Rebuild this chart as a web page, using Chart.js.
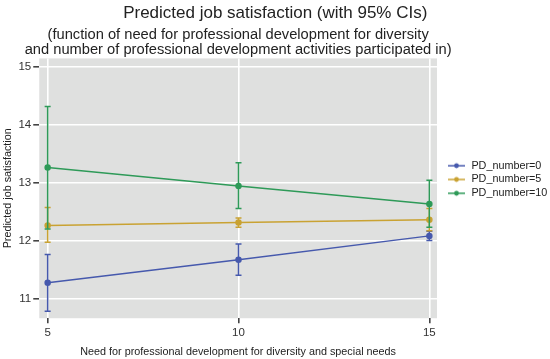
<!DOCTYPE html>
<html>
<head>
<meta charset="utf-8">
<script src="https://cdn.jsdelivr.net/npm/chart.js@4"></script>
<style>
body{margin:0;background:#fff}
</style>
</head>
<body>
<canvas id="canva1" width="550" height="359"></canvas>
<script>
// valores
var needLevels = [5, 10, 15]
var seriesNames = ["PD_number=0", "PD_number=5", "PD_number=10"]
var pd0Mean = [11.28, 11.68, 12.09]
var pd0Low = [10.79, 11.41, 12.01]
var pd0High = [11.77, 11.95, 12.17]
var pd5Mean = [12.27, 12.32, 12.37]
var pd5Low = [11.98, 12.24, 12.18]
var pd5High = [12.58, 12.40, 12.56]
var pd10Mean = [13.27, 12.95, 12.64]
var pd10Low = [12.21, 12.56, 12.24]
var pd10High = [14.32, 13.35, 13.05]
var xTicks = [5, 10, 15]
var yTicks = [11, 12, 13, 14, 15]
var subtitleLines = ["(function of need for professional development for diversity",
  "and number of professional development activities participated in)"]

var cores = ['#4659ad', '#c9a232', '#2e9a58']
var fonte = "'Liberation Sans', Arial, sans-serif"

function montarPontos(medias, baixo, alto){
  var pts = []
  for(var i = 0; i < needLevels.length; i++){
    pts.push({x: needLevels[i], y: medias[i], lo: baixo[i], hi: alto[i]})
  }
  return pts
}

// icone da legenda: linha com ponto, encostado a direita
function iconeLegenda(cor){
  var c = document.createElement('canvas')
  c.width = 26; c.height = 8
  var g = c.getContext('2d')
  g.strokeStyle = cor; g.lineWidth = 1.5
  g.beginPath(); g.moveTo(8, 4); g.lineTo(25, 4); g.stroke()
  g.fillStyle = cor
  g.beginPath(); g.arc(16.5, 4, 2.4, 0, Math.PI*2); g.fill()
  return c
}

// fundo cinza da area do grafico
var fundoPlugin = {
  id: 'fundo',
  beforeDraw: function(chart){
    var a = chart.chartArea, ctx = chart.ctx
    ctx.save()
    ctx.fillStyle = '#dfe0df'
    ctx.fillRect(a.left, a.top, a.right - a.left, a.bottom - a.top)
    ctx.restore()
  }
}

// barras de erro (IC 95%)
var erroPlugin = {
  id: 'erro',
  afterDatasetsDraw: function(chart){
    var ctx = chart.ctx
    var xs = chart.scales.x, ys = chart.scales.y
    ctx.save()
    chart.data.datasets.forEach(function(ds){
      ctx.strokeStyle = ds.borderColor
      ctx.lineWidth = 1.5
      ds.data.forEach(function(p){
        var px = xs.getPixelForValue(p.x)
        var y1 = ys.getPixelForValue(p.lo)
        var y2 = ys.getPixelForValue(p.hi)
        ctx.beginPath()
        ctx.moveTo(px, y1); ctx.lineTo(px, y2)
        ctx.moveTo(px - 3, y1); ctx.lineTo(px + 3, y1)
        ctx.moveTo(px - 3, y2); ctx.lineTo(px + 3, y2)
        ctx.stroke()
      })
    })
    ctx.restore()
  }
}

// subtitulo centrado na area do grafico
var subtituloPlugin = {
  id: 'subtitulo',
  afterDraw: function(chart){
    var ctx = chart.ctx, a = chart.chartArea
    var cx = (a.left + a.right) / 2
    ctx.save()
    ctx.fillStyle = '#222'
    ctx.font = '14.7px ' + fonte
    ctx.textAlign = 'center'
    ctx.textBaseline = 'middle'
    ctx.fillText(subtitleLines[0], cx, 35)
    ctx.fillText(subtitleLines[1], cx, 50)
    ctx.restore()
  }
}

var todos = [[pd0Mean, pd0Low, pd0High], [pd5Mean, pd5Low, pd5High], [pd10Mean, pd10Low, pd10High]]
var datasets = []
for(var i = 0; i < todos.length; i++){
  datasets.push({
    label: seriesNames[i],
    data: montarPontos(todos[i][0], todos[i][1], todos[i][2]),
    borderColor: cores[i],
    backgroundColor: cores[i],
    borderWidth: 1.5,
    pointRadius: 2.5,
    pointHoverRadius: 2.5,
    tension: 0
  })
}

const config = {
  type: 'line',
  data: {datasets: datasets},
  options: {
    responsive: false,
    animation: false,
    layout: {padding: {left: 0.5, right: 0, bottom: 0}},
    plugins: {
      title: {
        display: true,
        text: 'Predicted job satisfaction (with 95% CIs)',
        color: '#222',
        font: {family: fonte, size: 17, weight: 'normal'},
        padding: {top: 3, bottom: 35}
      },
      legend: {
        position: 'right',
        align: 'center',
        maxWidth: 113,
        labels: {
          color: '#222',
          font: {family: fonte, size: 10.8},
          usePointStyle: true,
          pointStyleWidth: 26,
          padding: 3,
          generateLabels: function(chart){
            var itens = Chart.defaults.plugins.legend.labels.generateLabels(chart)
            itens.forEach(function(it, k){ it.pointStyle = iconeLegenda(cores[k]) })
            return itens
          }
        }
      },
      tooltip: {enabled: false}
    },
    scales: {
      x: {
        type: 'linear',
        min: 4.78,
        max: 15.2,
        afterBuildTicks: function(s){ s.ticks = xTicks.map(function(v){ return {value: v} }) },
        grid: {color: '#ffffff', lineWidth: 1.6, tickColor: '#444', tickLength: 5},
        border: {display: false},
        ticks: {color: '#333', font: {family: fonte, size: 11.5}, padding: 3},
        title: {display: true, text: 'Need for professional development for diversity and special needs',
          color: '#222', font: {family: fonte, size: 10.8}, padding: {top: 3, bottom: 0}}
      },
      y: {
        type: 'linear',
        min: 10.67,
        max: 15.15,
        afterBuildTicks: function(s){ s.ticks = yTicks.map(function(v){ return {value: v} }) },
        grid: {color: '#ffffff', lineWidth: 1.6, tickColor: '#444', tickLength: 6},
        border: {display: false},
        ticks: {color: '#333', font: {family: fonte, size: 11.5}, padding: 2},
        title: {display: true, text: 'Predicted job satisfaction',
          color: '#222', font: {family: fonte, size: 10.8}, padding: {top: 1, bottom: 2}}
      }
    }
  },
  plugins: [fundoPlugin, erroPlugin, subtituloPlugin]
}

const ctx = document.getElementById('canva1').getContext('2d')
window.chart = new Chart(ctx, config)
</script>
</body>
</html>
